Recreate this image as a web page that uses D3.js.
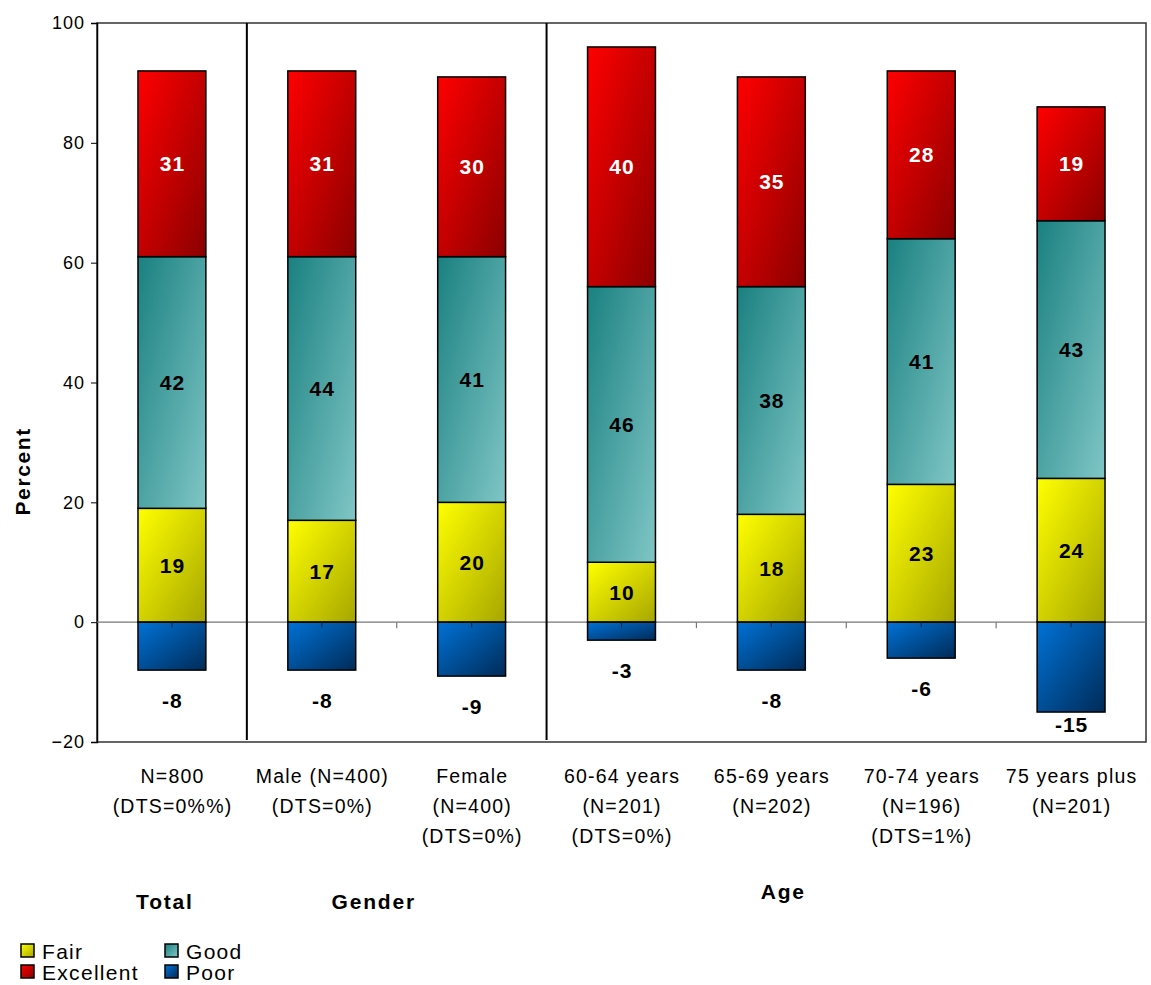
<!DOCTYPE html>
<html>
<head>
<meta charset="utf-8">
<script src="https://cdn.jsdelivr.net/npm/d3@7"></script>
<style>
  html, body { margin: 0; padding: 0; background: #fff; }
  svg { display: block; font-family: "Liberation Sans", Arial, sans-serif; }
</style>
</head>
<body>
<svg id="chart" width="1151" height="985"></svg>
<script>
const categories = [
  ["N=800", "(DTS=0%%)"],
  ["Male (N=400)", "(DTS=0%)"],
  ["Female", "(N=400)", "(DTS=0%)"],
  ["60-64 years", "(N=201)", "(DTS=0%)"],
  ["65-69 years", "(N=202)"],
  ["70-74 years", "(N=196)", "(DTS=1%)"],
  ["75 years plus", "(N=201)"]
];
const fair      = [19, 17, 20, 10, 18, 23, 24];
const good      = [42, 44, 41, 46, 38, 41, 43];
const excellent = [31, 31, 30, 40, 35, 28, 19];
const poor      = [-8, -8, -9, -3, -8, -6, -15];
const yTicks = [-20, 0, 20, 40, 60, 80, 100];
const groupLabels = [
  { label: "Total", from: 0, to: 0 },
  { label: "Gender", from: 1, to: 2 },
  { label: "Age", from: 3, to: 6 }
];
const separatorsAfter = [0, 2];

const svg = d3.select("#chart");
const m = { left: 97, right: 1146, top: 23, bottom: 742 };

const x = d3.scaleBand().domain(d3.range(categories.length))
  .range([m.left, m.right]).paddingInner(0.547).paddingOuter(0.2735);
const y = d3.scaleLinear().domain([-20, 100]).range([m.bottom, m.top]);

// gradients
const defs = svg.append("defs");
const grads = {
  fair: ["#ffff00", "#a6a600"],
  good: ["#1a8080", "#80c6c6"],
  excellent: ["#ff0000", "#8a0000"],
  poor: ["#0072d6", "#002b58"]
};
Object.entries(grads).forEach(([k, c]) => {
  const g = defs.append("linearGradient").attr("id", "g-" + k)
    .attr("x1", 0).attr("y1", 0).attr("x2", 1).attr("y2", 1);
  g.append("stop").attr("offset", "0%").attr("stop-color", c[0]);
  g.append("stop").attr("offset", "100%").attr("stop-color", c[1]);
});

// frame
svg.append("rect").attr("x", m.left).attr("y", m.top)
  .attr("width", m.right - m.left).attr("height", m.bottom - m.top)
  .attr("fill", "none").attr("stroke", "#333").attr("stroke-width", 1.5);

// y axis
const yAxis = d3.axisLeft(y).tickValues(yTicks).tickSize(6).tickPadding(6);
const ya = svg.append("g").attr("transform", `translate(${m.left},0)`).call(yAxis);
ya.select(".domain").attr("stroke", "#000").attr("stroke-width", 1.5);
ya.selectAll(".tick line").attr("stroke", "#000");
ya.selectAll(".tick text").attr("font-size", 18).attr("fill", "#000")
  .attr("letter-spacing", "1px")
  .attr("font-family", "Liberation Sans, Arial, sans-serif");

// zero line
svg.append("line").attr("x1", m.left).attr("x2", m.right)
  .attr("y1", y(0)).attr("y2", y(0)).attr("stroke", "#777").attr("stroke-width", 1.2);

// category boundary ticks on zero line
const step = x.step();
d3.range(1, categories.length).forEach(i => {
  const bx = x(i) - x.paddingInner() * step / 2;
  svg.append("line").attr("x1", bx).attr("x2", bx)
    .attr("y1", y(0)).attr("y2", y(0) + 6).attr("stroke", "#777").attr("stroke-width", 1.2);
});

// separators
separatorsAfter.forEach(i => {
  const sx = (x(i) + x.bandwidth() + x(i + 1)) / 2;
  svg.append("line").attr("x1", sx).attr("x2", sx)
    .attr("y1", m.top).attr("y2", m.bottom - 2).attr("stroke", "#000").attr("stroke-width", 2);
});

// stacked segments
const segs = [];
categories.forEach((c, i) => {
  segs.push({ i, key: "fair", y0: 0, y1: fair[i], v: fair[i] });
  segs.push({ i, key: "good", y0: fair[i], y1: fair[i] + good[i], v: good[i] });
  segs.push({ i, key: "excellent", y0: fair[i] + good[i], y1: fair[i] + good[i] + excellent[i], v: excellent[i] });
  segs.push({ i, key: "poor", y0: poor[i], y1: 0, v: poor[i] });
});

svg.append("g").selectAll("rect").data(segs).join("rect")
  .attr("x", d => x(d.i))
  .attr("width", x.bandwidth())
  .attr("y", d => y(d.y1))
  .attr("height", d => y(d.y0) - y(d.y1))
  .attr("fill", d => `url(#g-${d.key})`)
  .attr("stroke", "#000").attr("stroke-width", 1.5);

// center ticks inside poor bars
svg.append("g").selectAll("line").data(categories).join("line")
  .attr("x1", (d, i) => x(i) + x.bandwidth() / 2)
  .attr("x2", (d, i) => x(i) + x.bandwidth() / 2)
  .attr("y1", y(0)).attr("y2", y(0) + 5)
  .attr("stroke", "#0a2a50").attr("stroke-width", 1.2);

// value labels
const ls = 1;
svg.append("g").selectAll("text").data(segs.filter(d => d.key !== "poor")).join("text")
  .attr("x", d => x(d.i) + x.bandwidth() / 2 + ls / 2)
  .attr("y", d => y((d.y0 + d.y1) / 2))
  .attr("dy", "0.36em")
  .attr("text-anchor", "middle")
  .attr("font-size", 21).attr("font-weight", "bold").attr("letter-spacing", ls + "px")
  .attr("fill", d => d.key === "excellent" ? "#fff" : "#000")
  .text(d => d.v);

svg.append("g").selectAll("text").data(segs.filter(d => d.key === "poor")).join("text")
  .attr("x", d => x(d.i) + x.bandwidth() / 2 + ls / 2)
  .attr("y", d => Math.min(y(d.v) + 30, y(-20) - 18))
  .attr("dy", "0.36em")
  .attr("text-anchor", "middle")
  .attr("font-size", 21).attr("font-weight", "bold").attr("letter-spacing", ls + "px")
  .attr("fill", "#000")
  .text(d => d.v);

// category labels
const cl = svg.append("g");
categories.forEach((lines, i) => {
  const t = cl.append("text").attr("text-anchor", "middle")
    .attr("font-size", 19.5).attr("letter-spacing", "1.2px").attr("fill", "#000");
  lines.forEach((ln, k) => {
    t.append("tspan").attr("x", x(i) + x.bandwidth() / 2 + 0.6)
      .attr("y", 783 + k * 30).text(ln);
  });
});

// group labels
const groupY = { "Total": 909, "Gender": 909, "Age": 899 };
groupLabels.forEach(g => {
  let cx = (x(g.from) + x(g.to) + x.bandwidth()) / 2;
  if (g.label === "Total") cx -= 7;
  if (g.label === "Gender") cx -= 23;
  if (g.label === "Age") cx -= 63;
  svg.append("text").attr("x", cx).attr("y", groupY[g.label])
    .attr("text-anchor", "middle").attr("font-size", 21).attr("font-weight", "bold")
    .attr("letter-spacing", "1.8px")
    .text(g.label);
});

// y label
svg.append("text").attr("transform", `translate(30,${y(25) - 1}) rotate(-90)`)
  .attr("text-anchor", "middle").attr("font-size", 21).attr("font-weight", "bold")
  .attr("letter-spacing", "1.6px")
  .text("Percent");

// legend
const legend = [
  { key: "fair", label: "Fair", col: 0, row: 0 },
  { key: "good", label: "Good", col: 1, row: 0 },
  { key: "excellent", label: "Excellent", col: 0, row: 1 },
  { key: "poor", label: "Poor", col: 1, row: 1 }
];
const lg = svg.append("g");
legend.forEach(d => {
  const lx = 21 + d.col * 144, ly = 944 + d.row * 21;
  lg.append("rect").attr("x", lx).attr("y", ly).attr("width", 13).attr("height", 13)
    .attr("fill", `url(#g-${d.key})`).attr("stroke", "#000").attr("stroke-width", 1.5);
  lg.append("text").attr("x", lx + 21).attr("y", ly + 15).attr("font-size", 21)
    .attr("letter-spacing", "1.3px")
    .attr("fill", "#000").text(d.label);
});
</script>
</body>
</html>
